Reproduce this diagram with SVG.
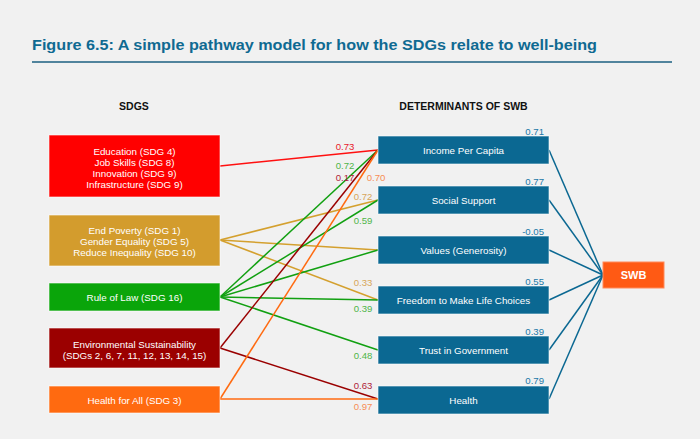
<svg xmlns="http://www.w3.org/2000/svg" width="700" height="439" viewBox="0 0 700 439">
<style>
.bg{fill:#f1f1f1}
.title{font-family:"Liberation Sans",Arial,sans-serif;font-weight:bold;font-size:15px;fill:#0f6a92}
.hdr{font-family:"Liberation Sans",Arial,sans-serif;font-weight:bold;font-size:10.5px;fill:#111;text-anchor:middle}
.bt{font-family:"Liberation Sans",Arial,sans-serif;font-size:9.8px;fill:#fff;text-anchor:middle}
.box{stroke:#ffffff;stroke-opacity:0.6;stroke-width:1}
.teal{fill:#0b6892}
.lbl{font-family:"Liberation Sans",Arial,sans-serif;font-size:9.6px;text-anchor:middle}
.rl{font-family:"Liberation Sans",Arial,sans-serif;font-size:9.6px;fill:#1a78a8;text-anchor:end}
.c line{stroke-width:1.5;fill:none}
.red{stroke:#ff1010}.gold{stroke:#d4a02e}.grn{stroke:#11a011}.dred{stroke:#9a0000}.org{stroke:#ff6a10}.tl{stroke:#0b6892}
</style>
<rect class="bg" x="0" y="0" width="700" height="439"/>
<text class="title" x="32" y="50" textLength="565" lengthAdjust="spacingAndGlyphs">Figure 6.5: A simple pathway model for how the SDGs relate to well-being</text>
<line x1="32" y1="62" x2="672" y2="62" stroke="#1b5f80" stroke-width="1.5"/>
<text class="hdr" x="134" y="110">SDGS</text>
<text class="hdr" x="463.5" y="110">DETERMINANTS OF SWB</text>

<g id="connectors" class="c">
<line class="red" x1="220" y1="166" x2="378" y2="150"/>
<line class="gold" x1="220" y1="240" x2="378" y2="200"/>
<line class="gold" x1="220" y1="240" x2="378" y2="250"/>
<line class="gold" x1="220" y1="240" x2="378" y2="300"/>
<line class="grn" x1="220" y1="297" x2="378" y2="150"/>
<line class="grn" x1="220" y1="297" x2="378" y2="200"/>
<line class="grn" x1="220" y1="297" x2="378" y2="250"/>
<line class="grn" x1="220" y1="297" x2="378" y2="300"/>
<line class="grn" x1="220" y1="297" x2="378" y2="350"/>
<line class="dred" x1="220" y1="348" x2="378" y2="150"/>
<line class="dred" x1="220" y1="348" x2="378" y2="399"/>
<line class="org" x1="220" y1="399" x2="378" y2="150"/>
<line class="org" x1="220" y1="399" x2="378" y2="399"/>
<line class="tl" x1="549" y1="150" x2="603" y2="275"/>
<line class="tl" x1="549" y1="200" x2="603" y2="275"/>
<line class="tl" x1="549" y1="250" x2="603" y2="275"/>
<line class="tl" x1="549" y1="300" x2="603" y2="275"/>
<line class="tl" x1="549" y1="350" x2="603" y2="275"/>
<line class="tl" x1="549" y1="399" x2="603" y2="275"/>
<text class="lbl" x="345" y="150" fill="#e8202a">0.73</text>
<text class="lbl" x="345" y="169" fill="#4fb548">0.72</text>
<text class="lbl" x="345" y="180.5" fill="#b0233a">0.17</text>
<text class="lbl" x="376" y="181" fill="#f78e55">0.70</text>
<text class="lbl" x="363" y="200" fill="#d7a659">0.72</text>
<text class="lbl" x="363" y="224" fill="#4fb548">0.59</text>
<text class="lbl" x="363" y="286" fill="#d7a659">0.33</text>
<text class="lbl" x="363" y="312" fill="#4fb548">0.39</text>
<text class="lbl" x="363" y="359" fill="#4fb548">0.48</text>
<text class="lbl" x="363" y="389" fill="#b0233a">0.63</text>
<text class="lbl" x="363" y="410" fill="#f78e55">0.97</text>
<text class="rl" x="544" y="135">0.71</text>
<text class="rl" x="544" y="185">0.77</text>
<text class="rl" x="544" y="235">-0.05</text>
<text class="rl" x="544" y="285">0.55</text>
<text class="rl" x="544" y="335">0.39</text>
<text class="rl" x="544" y="384">0.79</text>
</g>

<g id="sdg-education">
<rect class="box" x="49" y="135" width="171" height="62" fill="#ff0000"/>
<text class="bt" x="134.5" y="154.5">Education (SDG 4)</text>
<text class="bt" x="134.5" y="165.5">Job Skills (SDG 8)</text>
<text class="bt" x="134.5" y="176.5">Innovation (SDG 9)</text>
<text class="bt" x="134.5" y="188">Infrastructure (SDG 9)</text>
</g>
<g id="sdg-poverty">
<rect class="box" x="49" y="215" width="171" height="51" fill="#d39c2d"/>
<text class="bt" x="134.5" y="233.5">End Poverty (SDG 1)</text>
<text class="bt" x="134.5" y="245">Gender Equality (SDG 5)</text>
<text class="bt" x="134.5" y="256">Reduce Inequality (SDG 10)</text>
</g>
<g id="sdg-law">
<rect class="box" x="49" y="283" width="171" height="28" fill="#0aa50a"/>
<text class="bt" x="134.5" y="301">Rule of Law (SDG 16)</text>
</g>
<g id="sdg-env">
<rect class="box" x="49" y="328" width="171" height="40" fill="#9b0000"/>
<text class="bt" x="134.5" y="347.5">Environmental Sustainability</text>
<text class="bt" x="134.5" y="358.5">(SDGs 2, 6, 7, 11, 12, 13, 14, 15)</text>
</g>
<g id="sdg-health">
<rect class="box" x="49" y="386" width="171" height="27" fill="#ff6a10"/>
<text class="bt" x="134.5" y="403.5">Health for All (SDG 3)</text>
</g>

<g id="det-income">
<rect class="box teal" x="378" y="136" width="171" height="28"/>
<text class="bt" x="463.5" y="154">Income Per Capita</text>
</g>
<g id="det-social">
<rect class="box teal" x="378" y="186" width="171" height="28"/>
<text class="bt" x="463.5" y="204">Social Support</text>
</g>
<g id="det-values">
<rect class="box teal" x="378" y="236" width="171" height="28"/>
<text class="bt" x="463.5" y="254">Values (Generosity)</text>
</g>
<g id="det-freedom">
<rect class="box teal" x="378" y="286" width="171" height="28"/>
<text class="bt" x="463.5" y="304">Freedom to Make Life Choices</text>
</g>
<g id="det-trust">
<rect class="box teal" x="378" y="336" width="171" height="28"/>
<text class="bt" x="463.5" y="354">Trust in Government</text>
</g>
<g id="det-health">
<rect class="box teal" x="378" y="386" width="171" height="28"/>
<text class="bt" x="463.5" y="404">Health</text>
</g>
<g id="swb">
<rect x="603" y="262" width="61" height="26" fill="#ff5a14" stroke="#ff8a5a" stroke-width="1"/>
<text x="633.5" y="279" font-family="Liberation Sans,Arial,sans-serif" font-weight="bold" font-size="11px" fill="#fff" text-anchor="middle">SWB</text>
</g>
</svg>
